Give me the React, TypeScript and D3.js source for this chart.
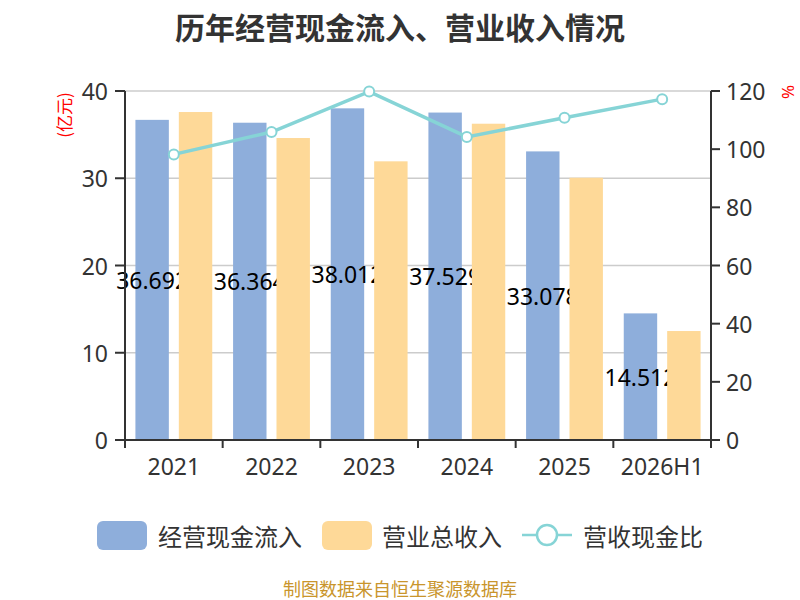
import * as d3 from "d3";

const years = ["2021", "2022", "2023", "2024", "2025", "2026H1"];
const cashIn = [36.692, 36.364, 38.012, 37.529, 33.078, 14.512];
const revenue = [37.59, 34.61, 31.94, 36.25, 30.06, 12.49];
const ratio = [98.2, 105.9, 119.8, 104.2, 110.8, 117.2];
const leftTicks = [0, 10, 20, 30, 40];
const rightTicks = [0, 20, 40, 60, 80, 100, 120];
const seriesNames = ["经营现金流入", "营业总收入", "营收现金比"];

const W = 800, H = 600;
const m = { top: 91, right: 89, bottom: 160, left: 125 };
const BLUE = "#8eaedb";
const YELLOW = "#fed998";
const TEAL = "#86d4d6";
const AXIS = "#333";
const NUM_FONT = "'Noto Sans', 'Noto Sans CJK SC', sans-serif";
const CJK_FONT = "'Noto Sans CJK SC', sans-serif";

const App = () => {
  const x0 = d3.scaleBand().domain(years).range([m.left, W - m.right]).padding(0);
  const x1 = d3.scaleBand().domain(["cash", "rev"]).range([0, x0.bandwidth()])
    .paddingInner(0.23).paddingOuter(0.24);
  const yL = d3.scaleLinear().domain([0, 40]).range([H - m.bottom, m.top]);
  const yR = d3.scaleLinear().domain([0, 120]).range([H - m.bottom, m.top]);

  const line = d3.line<number>()
    .x((_, i) => x0(years[i])! + x0.bandwidth() / 2)
    .y(d => yR(d));

  const x0Edges = [...years.map(c => x0(c)!), W - m.right];
  const bottom = yL(0);

  return (
    <svg width={W} height={H} style={{ position: "fixed", left: 0, top: 0, background: "#fff" }}>
      {/* title */}
      <text x={W / 2} y={26} textAnchor="middle" dominantBaseline="central"
        fontSize={30} fontWeight="bold" fill="#333" fontFamily={CJK_FONT}>
        历年经营现金流入、营业收入情况
      </text>

      {/* grid */}
      {leftTicks.filter(t => t > 0).map(t => (
        <line key={t} x1={m.left} x2={W - m.right} y1={yL(t)} y2={yL(t)} stroke="#ccc" strokeWidth={1.5} />
      ))}

      {/* cash bars */}
      {cashIn.map((v, i) => (
        <rect key={"c" + i} x={x0(years[i])! + x1("cash")!} y={yL(v)} width={x1.bandwidth()}
          height={bottom - yL(v)} fill={BLUE} />
      ))}

      {/* value labels */}
      {cashIn.map((v, i) => (
        <text key={"l" + i} x={x0(years[i])! + x1("cash")! + x1.bandwidth() / 2}
          y={(yL(v) + bottom) / 2} textAnchor="middle" dominantBaseline="central"
          fontSize={23} fill="#000" fontFamily={NUM_FONT}>
          {v.toFixed(3)}
        </text>
      ))}

      {/* revenue bars */}
      {revenue.map((v, i) => (
        <rect key={"r" + i} x={x0(years[i])! + x1("rev")!} y={yL(v)} width={x1.bandwidth()}
          height={bottom - yL(v)} fill={YELLOW} />
      ))}

      {/* left axis */}
      <line x1={m.left} x2={m.left} y1={m.top} y2={bottom} stroke={AXIS} strokeWidth={2} />
      {leftTicks.map(t => (
        <g key={"lt" + t}>
          <line x1={m.left - 10} x2={m.left} y1={yL(t)} y2={yL(t)} stroke={AXIS} strokeWidth={2} />
          <text x={m.left - 17} y={yL(t)} textAnchor="end" dominantBaseline="central"
            fontSize={23} fill="#333" fontFamily={NUM_FONT}>{t}</text>
        </g>
      ))}
      <text transform={`translate(63,${m.top + 24}) rotate(-90)`} textAnchor="middle"
        dominantBaseline="central" fontSize={17} fill="#f00" fontFamily={CJK_FONT}>(亿元)</text>

      {/* right axis */}
      <line x1={W - m.right} x2={W - m.right} y1={m.top} y2={bottom} stroke={AXIS} strokeWidth={2} />
      {rightTicks.map(t => (
        <g key={"rt" + t}>
          <line x1={W - m.right} x2={W - m.right + 9} y1={yR(t)} y2={yR(t)} stroke={AXIS} strokeWidth={2} />
          <text x={W - m.right + 15} y={yR(t)} textAnchor="start" dominantBaseline="central"
            fontSize={23} fill="#333" fontFamily={NUM_FONT}>{t}</text>
        </g>
      ))}
      <text transform={`translate(787,${m.top + 1}) rotate(-90)`} textAnchor="middle"
        dominantBaseline="central" fontSize={17} fill="#f00" fontFamily={NUM_FONT}>%</text>

      {/* x axis */}
      <line x1={m.left - 10} x2={W - m.right} y1={bottom} y2={bottom} stroke={AXIS} strokeWidth={2} />
      {x0Edges.map((xe, i) => (
        <line key={"xt" + i} x1={xe} x2={xe} y1={bottom} y2={bottom + 8} stroke={AXIS} strokeWidth={2} />
      ))}
      {years.map(c => (
        <text key={"xl" + c} x={x0(c)! + x0.bandwidth() / 2} y={466} textAnchor="middle"
          dominantBaseline="central" fontSize={23} fill="#333" fontFamily={NUM_FONT}>{c}</text>
      ))}

      {/* ratio line */}
      <path d={line(ratio)!} fill="none" stroke={TEAL} strokeWidth={3.5} />
      {ratio.map((v, i) => (
        <circle key={"p" + i} cx={x0(years[i])! + x0.bandwidth() / 2} cy={yR(v)} r={5}
          fill="#fff" stroke={TEAL} strokeWidth={2} />
      ))}

      {/* legend */}
      <rect x={97} y={521} width={50} height={29} rx={6} fill={BLUE} />
      <text x={158} y={535} dominantBaseline="central" fontSize={24} fill="#333" fontFamily={CJK_FONT}>{seriesNames[0]}</text>
      <rect x={322} y={521} width={50} height={29} rx={6} fill={YELLOW} />
      <text x={382} y={535} dominantBaseline="central" fontSize={24} fill="#333" fontFamily={CJK_FONT}>{seriesNames[1]}</text>
      <line x1={522} x2={572} y1={535} y2={535} stroke={TEAL} strokeWidth={2.5} />
      <circle cx={547} cy={535} r={10} fill="#fff" stroke={TEAL} strokeWidth={2.5} />
      <text x={583} y={535} dominantBaseline="central" fontSize={24} fill="#333" fontFamily={CJK_FONT}>{seriesNames[2]}</text>

      {/* source */}
      <text x={W / 2} y={588} textAnchor="middle" dominantBaseline="central" fontSize={18}
        fill="#c9952c" fontFamily={CJK_FONT}>制图数据来自恒生聚源数据库</text>
    </svg>
  );
};

export default App;
